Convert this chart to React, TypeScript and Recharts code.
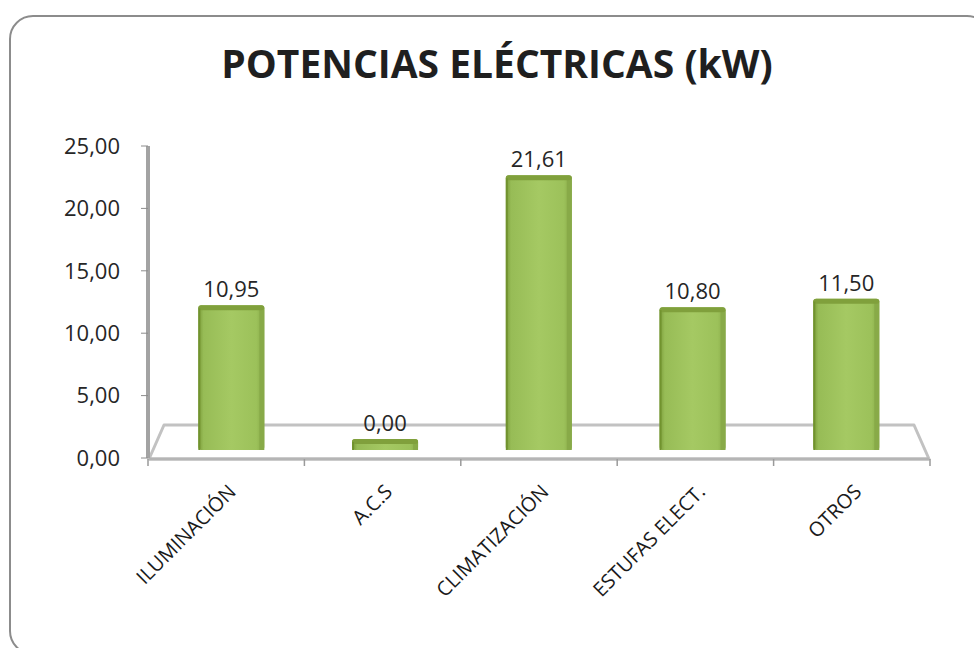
import { BarChart, Bar, XAxis, YAxis, CartesianGrid, LabelList } from "recharts";

const categorias = ["ILUMINACIÓN", "A.C.S", "CLIMATIZACIÓN", "ESTUFAS ELECT.", "OTROS"];
const potencias = [10.95, 0.0, 21.61, 10.8, 11.5];
const yTicks = [0, 5, 10, 15, 20, 25];

const data = categorias.map((nombre, i) => ({ nombre, kw: potencias[i] }));

const W = 974;
const H = 648;
const MARGIN = { top: 146, right: 44, bottom: 40, left: 88 };
const Y_AXIS_W = 60;
const X_AXIS_H = 150;
const PLOT_LEFT = MARGIN.left + Y_AXIS_W;
const PLOT_RIGHT = W - MARGIN.right;
const PLOT_BOTTOM = H - MARGIN.bottom - X_AXIS_H;
const PLOT_CX = (PLOT_LEFT + PLOT_RIGHT) / 2;

// fake 3D: bars stand halfway into the floor, a bit above the front edge
const FLOOR_DEPTH = 33;
const FLOOR_INSET = 16;
const BAR_LIFT = 19;
const DEPTH_SCALE = 0.978;
const PERSPECTIVE = 0.017;

const FONT = "'Open Sans', 'DejaVu Sans', sans-serif";
const fmt = (v: number) => v.toFixed(2).replace(".", ",");

function barGeometry(x: number, y: number, width: number, height: number) {
  const base = y + height;
  const shift = (PLOT_CX - (x + width / 2)) * PERSPECTIVE;
  const top = base - BAR_LIFT - height * DEPTH_SCALE;
  const bottom = base - 8;
  return { left: x + shift, top, bottom, cx: x + width / 2 + shift };
}

function Bar3D(props: any) {
  const { x, y, width, height, index } = props;
  const { left, top, bottom } = barGeometry(x, y, width, height);
  const id = `cara-${index}`;
  const h = bottom - top;
  return (
    <g>
      <defs>
        <linearGradient id={id} x1="0" x2="1" y1="0" y2="0">
          <stop offset="0" stopColor="#7b9c3a" />
          <stop offset="0.08" stopColor="#97bc56" />
          <stop offset="0.5" stopColor="#a5c963" />
          <stop offset="0.88" stopColor="#9cc15a" />
          <stop offset="1" stopColor="#86a846" />
        </linearGradient>
      </defs>
      <rect x={left} y={top} width={width} height={h} rx={3} fill={`url(#${id})`} />
      <rect x={left + width - 5} y={top + 3} width={5} height={h - 3} fill="#88aa48" />
      <rect x={left} y={top} width={width} height={Math.min(5, h)} rx={3} fill="#80a03c" />
      <rect x={left} y={top + 3} width={2} height={Math.max(0, h - 3)} fill="#71932e" />
    </g>
  );
}

function ValueLabel(props: any) {
  const { x, y, width, height, value } = props;
  const { top, cx } = barGeometry(x, y, width, height);
  return (
    <text x={cx} y={top - 8} textAnchor="middle" fontSize={22} fontFamily={FONT} fill="#262626">
      {fmt(Number(value))}
    </text>
  );
}

function CategoryTick(props: any) {
  const { x, y, payload, index } = props;
  const off = payload.offset ?? 0;
  const axisY = PLOT_BOTTOM + 1;
  const last = index === categorias.length - 1;
  const tx = x + 11;
  const ty = axisY + 34;
  return (
    <g>
      <line x1={x - off} x2={x - off} y1={axisY} y2={axisY + 7} stroke="#9a9a9a" strokeWidth={1.5} />
      {last && <line x1={x + off} x2={x + off} y1={axisY} y2={axisY + 7} stroke="#9a9a9a" strokeWidth={1.5} />}
      <text
        x={tx}
        y={ty}
        textAnchor="end"
        transform={`rotate(-45, ${tx}, ${ty})`}
        fontSize={20}
        fontFamily={FONT}
        fill="#1a1a1a"
      >
        {payload.value}
      </text>
    </g>
  );
}

// grey floor drawn from the zero gridline only
function FloorLine(p: any) {
  const { x1, x2, y1, key } = p;
  if (Math.abs(y1 - PLOT_BOTTOM) > 1) return <g key={key} />;
  const pts = [
    [x1 + 1, y1 + 1],
    [x2 - 1, y1 + 1],
    [x2 - FLOOR_INSET, y1 - FLOOR_DEPTH],
    [x1 + FLOOR_INSET, y1 - FLOOR_DEPTH],
  ]
    .map((q) => q.join(","))
    .join(" ");
  return (
    <g key={key}>
      <polygon points={pts} fill="#ffffff" stroke="#c2c2c2" strokeWidth={3} strokeLinejoin="round" />
      <line x1={x1 + 1} x2={x2 - 1} y1={y1 + 1} y2={y1 + 1} stroke="#b5b5b5" strokeWidth={3} />
    </g>
  );
}

export default function App() {
  return (
    <div style={{ position: "absolute", left: 0, top: 0, width: W, height: H, overflow: "hidden", background: "#fff" }}>
      <div
        style={{
          position: "absolute",
          left: 9,
          top: 15,
          width: 978,
          height: 636,
          border: "2px solid #8c8c8c",
          borderRadius: 24,
        }}
      />
      <div
        style={{
          position: "absolute",
          left: 0,
          width: 994,
          top: 43,
          textAlign: "center",
          fontFamily: FONT,
          fontWeight: 700,
          fontSize: 39,
          lineHeight: "39px",
          color: "#1f1f1f",
        }}
      >
        POTENCIAS ELÉCTRICAS (kW)
      </div>
      <div style={{ position: "absolute", left: 0, top: 0 }}>
        <BarChart width={W} height={H} data={data} margin={MARGIN}>
          <CartesianGrid vertical={false} horizontal={FloorLine} />
          <YAxis
            width={Y_AXIS_W}
            domain={[0, 25]}
            ticks={yTicks}
            tickFormatter={fmt}
            tick={{ fontSize: 22, fill: "#262626", fontFamily: FONT }}
            tickSize={7}
            tickMargin={21}
            axisLine={{ stroke: "#a3a3a3", strokeWidth: 4 }}
            tickLine={{ stroke: "#8c8c8c" }}
          />
          <XAxis
            dataKey="nombre"
            height={X_AXIS_H}
            interval={0}
            axisLine={false}
            tickLine={false}
            tick={<CategoryTick />}
          />
          <Bar dataKey="kw" barSize={66} shape={<Bar3D />} isAnimationActive={false}>
            <LabelList dataKey="kw" content={<ValueLabel />} />
          </Bar>
        </BarChart>
      </div>
    </div>
  );
}
